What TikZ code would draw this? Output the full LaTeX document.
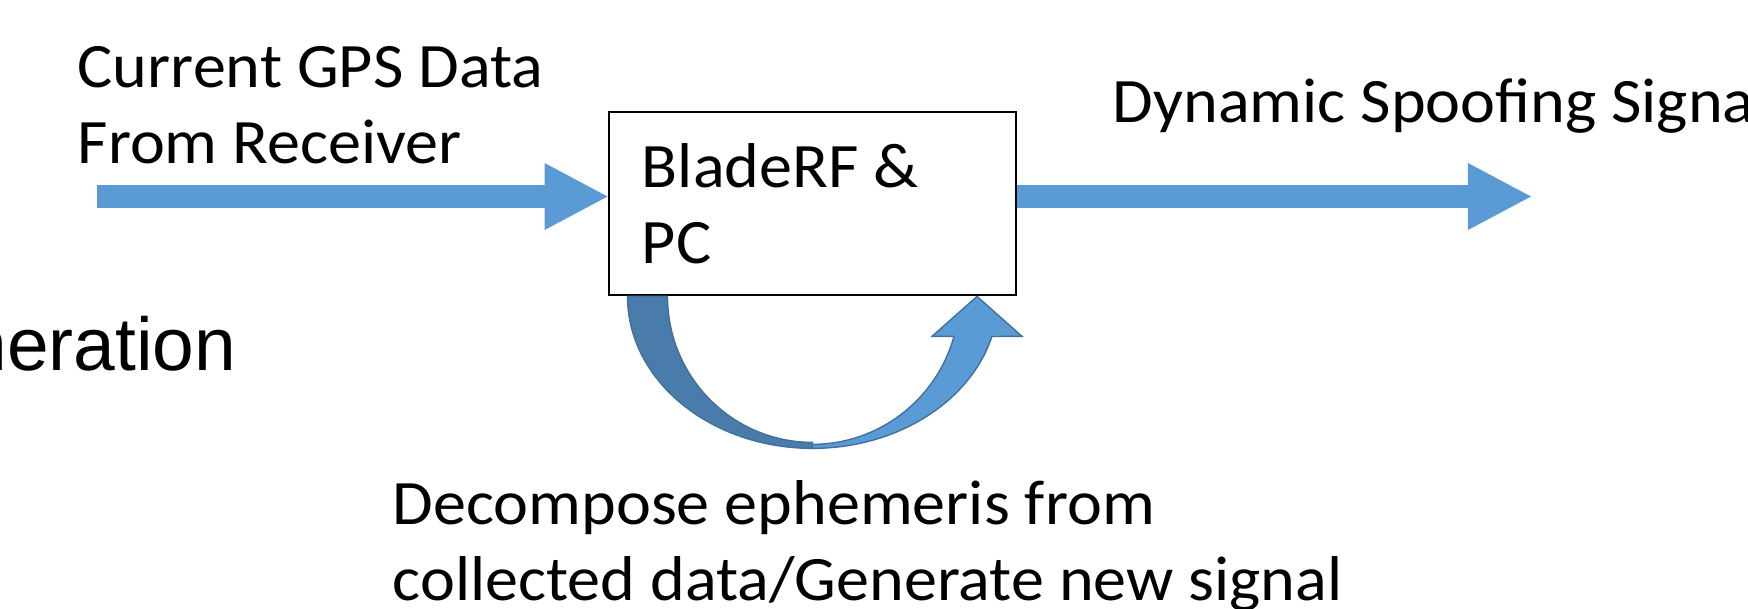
\documentclass[tikz,border=0pt]{standalone}
\usepackage{fontspec}
\setmainfont{Carlito}[FakeStretch=1.045]
\newfontfamily\slidefont{Liberation Sans}
\usetikzlibrary{arrows.meta,calc}
\definecolor{arrowblue}{RGB}{91,155,213}
\definecolor{backblue}{RGB}{73,124,170}
\definecolor{edgeblue}{RGB}{65,113,156}

\begin{document}
\begin{tikzpicture}[x=0.01cm, y=0.01cm,
		every node/.style={inner sep=0pt, font=\fontsize{18}{21.6}\selectfont},
		lbl/.style={anchor=base west, align=left},
		box/.style={draw, line width=0.75pt, minimum width=4.07cm,
				minimum height=1.83cm, text width=3.41cm, align=flush left},
		flow/.style={draw=arrowblue, line width=0.23cm,
				-{Triangle[length=0.63cm, width=0.67cm, line width=0pt]}},
		loopback/.style={fill=#1, draw=edgeblue, line width=0.4pt}]
	\useasboundingbox (0,0) rectangle (1748,608);

	\node[box] (BRF) at (812.5,404.5) {BladeRF \&\\PC};
	\node[lbl] (GPS) at (77,445) {Current GPS Data\\From Receiver};
	\node[lbl] (DSS) at (1112,486) {Dynamic Spoofing Signal};
	\node[lbl] (DEC) at (392,8) {Decompose ephemeris from\\collected data/Generate new signal};
	\node[anchor=base east, font=\slidefont\fontsize{21.3}{25.6}\selectfont] (GEN) at (237,238) {Generation};

	\coordinate (src) at (97,411.5);
	\coordinate (dst) at (1531,411.5);
	\draw[flow] (src) -- (BRF.west |- src);
	\draw[flow] (BRF.east |- dst) -- (dst);

	\path[loopback=backblue] ($(BRF.south)+(-185,0)$)
		arc[start angle=180, end angle=270, x radius=185, y radius=152]
		-- ++(0,6) arc[start angle=270, end angle=180, x radius=145, y radius=146] -- cycle;
	\path[loopback=arrowblue] ($(BRF.south)+(0,-152)$)
		arc[start angle=270, end angle=344.7, x radius=186, y radius=152]
		-- ($(BRF.south)+(209.5,-40)$) -- ($(BRF.south)+(164.5,0)$)
		-- ($(BRF.south)+(119.5,-40)$) -- ($(BRF.south)+(141.5,-40)$)
		arc[start angle=344.3, end angle=270, x radius=147, y radius=148] -- cycle;
\end{tikzpicture}
\end{document}
